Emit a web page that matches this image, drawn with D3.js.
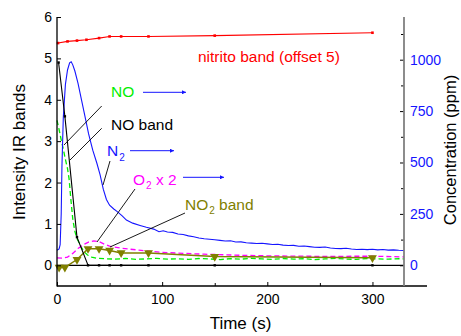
<!DOCTYPE html>
<html><head><meta charset="utf-8">
<script src="https://cdn.jsdelivr.net/npm/d3@7"></script>
<style>body{margin:0;background:#fff}svg{display:block}text{font-family:"Liberation Sans",Arial,sans-serif}</style>
</head><body><svg id="c" width="461" height="336"></svg>
<script>
// ---- data ----
const nitritoTime = [1, 10, 19, 28, 40, 50, 61, 87, 150, 300];
const nitritoVal  = [5.37, 5.41, 5.43, 5.45, 5.49, 5.53, 5.53, 5.53, 5.55, 5.62];
const noBandTime = [1.5, 7.5, 19, 29.5, 40, 50, 61, 87, 150, 300];
const noBandVal  = [4.9, 3.6, 0.68, 0, 0, 0, 0, 0, 0, 0];
const no2BandTime = [2, 7.5, 19, 29.5, 40, 50, 61, 87, 150, 300];
const no2BandVal  = [-0.05, -0.05, 0.14, 0.40, 0.40, 0.36, 0.30, 0.30, 0.21, 0.18];
const n2Time = [0, 2, 3, 4, 4.7, 6, 8, 10, 12, 13.5, 15, 17, 20, 23.5, 27, 30, 34, 38, 41, 44, 47, 50, 54, 57, 62, 66, 72, 79, 85, 92, 97, 101, 105, 110, 115, 120, 125, 130, 135, 140, 145, 150, 155, 160, 165, 170, 175, 180, 185, 190, 195, 200, 205, 210, 215, 220, 225, 230, 235, 240, 245, 250, 255, 260, 265, 270, 275, 280, 285, 290, 295, 300, 305, 310, 315, 320, 325, 330];
const n2Ppm  = [73, 80, 100, 250, 480, 720, 880, 950, 985, 990, 975, 945, 885, 800, 715, 640, 560, 495, 440, 370, 320, 292, 274, 262, 240, 220, 205, 194, 185, 176, 163, 168, 162, 160, 152, 150, 143, 139, 133, 129, 127, 124, 121, 118, 119, 113, 114, 110, 108, 106, 107, 104, 101, 102, 98, 96, 97, 93, 94, 91, 88, 87, 89, 84, 82, 81, 83, 79, 77, 78, 76, 78, 75, 77, 74, 75, 73, 72];
const noTime = [0, 2, 4, 6, 8, 10, 11.5, 13, 15, 17, 19, 21, 23, 26, 29, 33, 38, 45, 55, 65, 75, 85, 95, 105, 115, 125, 135, 145, 155, 165, 175, 185, 195, 205, 215, 225, 235, 245, 255, 265, 275, 285, 295, 305, 315, 325, 330];
const noPpm  = [705, 660, 610, 565, 515, 470, 420, 330, 225, 165, 130, 110, 88, 65, 50, 40, 34, 32, 30, 33, 29, 31, 34, 30, 32, 29, 33, 31, 28, 32, 30, 34, 31, 29, 33, 30, 32, 28, 31, 34, 30, 29, 33, 31, 30, 32, 31];
const o2Time = [0, 5, 10, 15, 20, 25, 30, 35, 40, 45, 50, 60, 70, 80, 90, 100, 120, 140, 160, 180, 200, 220, 240, 260, 280, 300, 320, 330];
const o2Ppm  = [36, 35, 40, 58, 82, 100, 113, 119, 115, 103, 93, 84, 78, 73, 68, 63, 58, 54, 51, 48, 46, 45, 44, 43, 44, 44, 42, 41];
const xTicks = [0, 100, 200, 300];
const xMinor = [50, 150, 250];
const yLTicks = [0, 1, 2, 3, 4, 5, 6];
const yRTicks = [0, 250, 500, 750, 1000];
const yRMinor = [125, 375, 625, 875, 1125];

// ---- layout ----
const svg = d3.select("#c");
const x = d3.scaleLinear().domain([0, 330]).range([57, 404]);
const yL = d3.scaleLinear().domain([-0.5, 6]).range([286, 17]);
const yR = d3.scaleLinear().domain([-100.7, 1207.7]).range([286, 17]);
const BLUE = "#1515ff", GREEN = "#00ee00", MAG = "#ff00ff", OLIVE = "#808000", RED = "#ff0000";

const zip = (a, b) => a.map((t, i) => [t, b[i]]);
const lineL = d3.line().x(d => x(d[0])).y(d => yL(d[1]));
const lineR = d3.line().x(d => x(d[0])).y(d => yR(d[1]));

// zero line
svg.append("path").attr("d", lineL([[0, 0], [330, 0]])).attr("stroke", "#000").attr("stroke-width", 1.2).attr("fill", "none");

// NO (green dashed)
svg.append("path").attr("d", lineR(zip(noTime, noPpm))).attr("stroke", GREEN).attr("stroke-width", 1.3).attr("stroke-dasharray", "5,3").attr("fill", "none");
// O2 x2 (magenta dashed)
svg.append("path").attr("d", lineR(zip(o2Time, o2Ppm))).attr("stroke", MAG).attr("stroke-width", 1.3).attr("stroke-dasharray", "5,3").attr("fill", "none");
// NO2 band olive
svg.append("path").attr("d", lineL(zip(no2BandTime, no2BandVal))).attr("stroke", OLIVE).attr("stroke-width", 1.5).attr("fill", "none");
svg.append("g").selectAll("path").data(zip(no2BandTime, no2BandVal)).join("path")
  .attr("d", d3.symbol(d3.symbolTriangle, 34)())
  .attr("transform", d => `translate(${x(d[0])},${yL(d[1])}) rotate(180)`)
  .attr("fill", OLIVE);
// N2 blue
svg.append("path").attr("d", lineR(zip(n2Time, n2Ppm))).attr("stroke", BLUE).attr("stroke-width", 1.1).attr("fill", "none");
// NO band black
svg.append("path").attr("d", lineL(zip(noBandTime, noBandVal))).attr("stroke", "#000").attr("stroke-width", 1.1).attr("fill", "none");
svg.append("g").selectAll("rect").data(zip(noBandTime, noBandVal)).join("rect")
  .attr("x", d => x(d[0]) - 1.2).attr("y", d => yL(d[1]) - 1.2).attr("width", 2.4).attr("height", 2.4).attr("fill", "#000");
// nitrito red
svg.append("path").attr("d", lineL(zip(nitritoTime, nitritoVal))).attr("stroke", RED).attr("stroke-width", 1.1).attr("fill", "none");
svg.append("g").selectAll("rect").data(zip(nitritoTime, nitritoVal)).join("rect")
  .attr("x", d => x(d[0]) - 1.3).attr("y", d => yL(d[1]) - 1.3).attr("width", 2.6).attr("height", 2.6).attr("fill", RED);

// ---- axes ----
const gL = svg.append("g").attr("transform", "translate(57,0)")
  .call(d3.axisLeft(yL).tickValues(yLTicks).tickSize(-4).tickPadding(5).tickFormat(d3.format("d")));
const gB = svg.append("g").attr("transform", "translate(0,286)")
  .call(d3.axisBottom(x).tickValues(xTicks).tickSize(-4).tickPadding(8).tickFormat(d3.format("d")));
svg.append("g").attr("transform", "translate(0,286)")
  .call(d3.axisBottom(x).tickValues(xMinor).tickSize(-3).tickFormat(""));
const gR = svg.append("g").attr("transform", "translate(404,0)")
  .call(d3.axisRight(yR).tickValues(yRTicks).tickSize(-4).tickPadding(6).tickFormat(d3.format("d")));
svg.append("g").attr("transform", "translate(404,0)")
  .call(d3.axisRight(yR).tickValues(yRMinor).tickSize(-3).tickFormat(""));
svg.selectAll(".domain").remove();
svg.selectAll(".tick text").attr("font-size", 14).attr("font-family", "Liberation Sans, Arial, sans-serif").attr("fill", "#000");
gR.selectAll(".tick text").attr("fill", BLUE);
svg.selectAll(".tick line").attr("stroke-width", 1);

svg.append("line").attr("x1", 57).attr("x2", 57).attr("y1", 17).attr("y2", 286.6).attr("stroke", "#000").attr("stroke-width", 1.3);
svg.append("line").attr("x1", 57).attr("x2", 427).attr("y1", 286).attr("y2", 286).attr("stroke", "#000").attr("stroke-width", 1.3);
svg.append("line").attr("x1", 404).attr("x2", 404).attr("y1", 17).attr("y2", 286).attr("stroke", "#808080").attr("stroke-width", 1.8);

// titles
svg.append("text").attr("transform", "translate(25,152) rotate(-90)").attr("text-anchor", "middle").attr("font-size", 17).text("Intensity IR bands");
svg.append("text").attr("x", 240.5).attr("y", 329).attr("text-anchor", "middle").attr("font-size", 17).text("Time (s)");
svg.append("text").attr("transform", "translate(456,150) rotate(-90)").attr("text-anchor", "middle").attr("font-size", 16.5).text("Concentration (ppm)");

// ---- annotations ----
const ann = svg.append("g").attr("font-size", 15.5);
ann.append("text").attr("x", 198).attr("y", 62).attr("fill", RED).text("nitrito band (offset 5)");
ann.append("text").attr("x", 111).attr("y", 97).attr("fill", GREEN).text("NO");
ann.append("text").attr("x", 111).attr("y", 129.5).attr("fill", "#000").text("NO band");
const tN2 = ann.append("text").attr("x", 107).attr("y", 156).attr("fill", BLUE);
tN2.append("tspan").text("N");
tN2.append("tspan").attr("font-size", 10).attr("dy", 5).attr("dx", 1).text("2");
const tO2 = ann.append("text").attr("x", 133).attr("y", 185).attr("fill", MAG);
tO2.append("tspan").text("O");
tO2.append("tspan").attr("font-size", 10).attr("dy", 4).attr("dx", 1).text("2");
tO2.append("tspan").attr("dy", -4).text(" x 2");
const tNO2 = ann.append("text").attr("x", 185).attr("y", 210).attr("fill", OLIVE);
tNO2.append("tspan").text("NO");
tNO2.append("tspan").attr("font-size", 10).attr("dy", 4).attr("dx", 1).text("2");
tNO2.append("tspan").attr("dy", -4).text(" band");

// arrows
const defs = svg.append("defs");
defs.append("marker").attr("id", "ah").attr("viewBox", "0 0 10 10").attr("refX", 10).attr("refY", 5)
  .attr("markerWidth", 6).attr("markerHeight", 4).attr("markerUnits", "userSpaceOnUse").attr("orient", "auto")
  .append("path").attr("d", "M0,0L10,5L0,10Z").attr("fill", BLUE);
const arrows = [[143, 92.3, 186, 92.3], [130, 150.7, 174, 150.7], [183, 177.3, 224, 177.3]];
svg.append("g").selectAll("line").data(arrows).join("line")
  .attr("x1", d => d[0]).attr("y1", d => d[1]).attr("x2", d => d[2]).attr("y2", d => d[3])
  .attr("stroke", BLUE).attr("stroke-width", 1).attr("marker-end", "url(#ah)");

// leader lines
const leaders = [[101.7, 106, 64, 145], [101.7, 128.3, 70, 160], [110, 161, 103, 185], [135, 189, 97, 242], [185, 213, 110, 247]];
svg.append("g").selectAll("line").data(leaders).join("line")
  .attr("x1", d => d[0]).attr("y1", d => d[1]).attr("x2", d => d[2]).attr("y2", d => d[3])
  .attr("stroke", "#000").attr("stroke-width", 0.9);
</script></body></html>
